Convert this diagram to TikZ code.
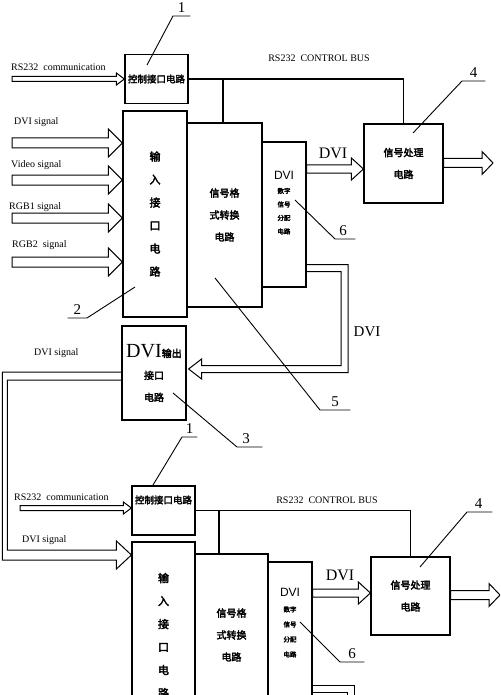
\documentclass[tikz,border=0pt]{standalone}
\usepackage{fontspec}
\setmainfont{Liberation Serif}
\setsansfont{Liberation Sans}
\newfontfamily\cjk[FakeBold=3]{Noto Sans CJK SC}
\usetikzlibrary{calc}

% hollow fat arrow: start, tip, shaft half width, head half width, head length
\newcommand{\fatarrow}[5]{%
  \draw[band] ($(#1)+(0,-#3)$) -- ($(#2)+(-#5,-#3)$) -- ($(#2)+(-#5,-#4)$)
    -- (#2) -- ($(#2)+(-#5,#4)$) -- ($(#2)+(-#5,#3)$) -- ($(#1)+(0,#3)$) -- cycle;}

\begin{document}
\begin{tikzpicture}[x=1pt,y=-1pt,
    box/.style={draw,line width=1.2pt,inner sep=0pt,align=center,font=\cjk\fontsize{10}{22}\selectfont},
    zh/.style={inner sep=0pt,align=center,font=\cjk\fontsize{10}{22}\selectfont},
    band/.style={line width=1pt,line join=miter},
    bus/.style={line width=1.1pt},
    lead/.style={line width=0.9pt},
    num/.style={inner sep=3.5pt,anchor=south west,font=\fontsize{15}{15}\selectfont},
    lab/.style={inner sep=0pt,anchor=west,font=\fontsize{10}{12}\selectfont},
    dvilab/.style={inner sep=0pt,font=\fontsize{16}{16}\selectfont}]
    \useasboundingbox (0,0) rectangle (500,695);
    \clip (0,0) rectangle (500,695);

    % Boxes, upper unit
    \node[box,minimum width=63,minimum height=49,font=\cjk\fontsize{9.5}{12}\selectfont] (ctrlA) at (156.5,79) {控制接口电路};
    \node[box,minimum width=64,minimum height=206,font=\cjk\fontsize{11}{23}\selectfont] (inA) at (155,214) {输\\入\\接\\口\\电\\路};
    \node[box,minimum width=75,minimum height=184] (fmtA) at (224.5,215) {信号格\\式转换\\电路};
    \node[box,minimum width=44,minimum height=145] (distA) at (284,214.5) {};
    \node[zh,font=\cjk\fontsize{6.5}{13.5}\selectfont] (distAt) at ([yshift=11.5pt]distA.center) {{\sffamily\fontsize{12}{14}\selectfont DVI}\\数字\\信号\\分配\\电路};
    \node[box,minimum width=79,minimum height=79] (procA) at (403.5,163.5) {信号处理\\电路};
    \node[box,minimum width=64,minimum height=94] (outA) at (154,373) {{\rmfamily\fontsize{20}{22}\selectfont DVI}输出\\接口\\电路};

    % Boxes, lower unit
    \node[box,minimum width=63,minimum height=49] (ctrlB) at (163.5,510.5) {};
    \node[zh,font=\cjk\fontsize{9.5}{12}\selectfont] (ctrlBt) at ([yshift=10.5pt]ctrlB.center) {控制接口电路};
    \node[box,minimum width=63,minimum height=206] (inB) at (163.5,645) {};
    \node[zh,font=\cjk\fontsize{11}{23}\selectfont] (inBt) at ([yshift=9.5pt]inB.center) {输\\入\\接\\口\\电\\路};
    \node[box,minimum width=73,minimum height=184] (fmtB) at (231.5,646) {};
    \node[zh] (fmtBt) at ([yshift=11pt]fmtB.center) {信号格\\式转换\\电路};
    \node[box,minimum width=44,minimum height=145] (distB) at (290,634.5) {};
    \node[zh,font=\cjk\fontsize{6.5}{15}\selectfont] (distBt) at ([yshift=11.5pt]distB.center) {{\sffamily\fontsize{12}{14}\selectfont DVI}\\数字\\信号\\分配\\电路};
    \node[box,minimum width=79,minimum height=78] (procB) at (410.5,596) {信号处理\\电路};

    % Texts
    \node[lab] (rsA) at (11,67) {RS232\ \ communication};
    \node[lab] (dviAl) at (14,122) {DVI signal};
    \node[lab] (vidAl) at (11,165) {Video signal};
    \node[lab] (rgb1Al) at (9,207) {RGB1 signal};
    \node[lab] (rgb2Al) at (12,245) {RGB2\ \ signal};
    \node[lab] (dviMl) at (34,353) {DVI signal};
    \node[lab] (rsB) at (14,497) {RS232\ \ communication};
    \node[lab] (dviBl) at (22,540) {DVI signal};
    \node[lab,anchor=center] (busAl) at (319,58) {RS232\ \ CONTROL BUS};
    \node[lab,anchor=center] (busBl) at (327,500) {RS232\ \ CONTROL BUS};
    \node[dvilab] (dviA) at (333,153) {DVI};
    \node[dvilab,font=\fontsize{15}{15}\selectfont] (dviFb) at (367,332) {DVI};
    \node[dvilab] (dviB) at (340,575) {DVI};

    % Control bus
    \draw[bus] (ctrlA.east) -- (ctrlA.east -| procA.north) -- (procA.north);
    \coordinate (tapA) at (223,79);
    \draw[bus] (tapA) -- (tapA |- fmtA.north);
    \draw[bus] (ctrlB.east) -- (ctrlB.east -| procB.north) -- (procB.north);
    \coordinate (tapB) at (219,510.5);
    \draw[bus] (tapB) -- (tapB |- fmtB.north);

    % Input arrows
    \coordinate (rsAs) at (12,79);      \coordinate (rsAt) at (rsAs -| ctrlA.west);
    \coordinate (dviAs) at (12,143);    \coordinate (dviAt) at (dviAs -| inA.west);
    \coordinate (vidAs) at (12,180);    \coordinate (vidAt) at (vidAs -| inA.west);
    \coordinate (rgb1As) at (12,218);   \coordinate (rgb1At) at (rgb1As -| inA.west);
    \coordinate (rgb2As) at (12,262);   \coordinate (rgb2At) at (rgb2As -| inA.west);
    \fatarrow{rsAs}{rsAt}{2.5}{6}{8}
    \fatarrow{dviAs}{dviAt}{5}{14}{14}
    \fatarrow{vidAs}{vidAt}{5}{14}{14}
    \fatarrow{rgb1As}{rgb1At}{5}{14}{14}
    \fatarrow{rgb2As}{rgb2At}{5}{14}{14}
    \coordinate (rsBs) at (20,508);     \coordinate (rsBt) at (rsBs -| ctrlB.west);
    \fatarrow{rsBs}{rsBt}{2.5}{6}{8}

    % DVI and output arrows
    \coordinate (dAs) at (distA.east |- 0,169);   \coordinate (dAt) at (dAs -| procA.west);
    \coordinate (oAs) at (procA.east |- 0,163);   \coordinate (oAt) at (493,163);
    \fatarrow{dAs}{dAt}{4}{11}{12}
    \fatarrow{oAs}{oAt}{4.5}{11.5}{11}
    \coordinate (dBs) at (distB.east |- 0,593);   \coordinate (dBt) at (dBs -| procB.west);
    \coordinate (oBs) at (procB.east |- 0,595);   \coordinate (oBt) at (500,595);
    \fatarrow{dBs}{dBt}{4}{11}{12}
    \fatarrow{oBs}{oBt}{4.5}{11.5}{11}

    % DVI loop back into output box, then on to the lower unit
    \coordinate (fbA) at (distA.east |- 0,268);
    \draw[band] (fbA) ++(0,-3.5) -- ++(41.5,0) -- ++(0,108) -- ++(-146.5,0) -- ++(0,6.5)
        -- ++(-13,-10) -- ++(13,-10) -- ++(0,6.5) -- ++(139.5,0) -- ++(0,-94) -- ++(-34.5,0);
    \coordinate (lnk) at (outA.west |- 0,376);
    \draw[band] (lnk) ++(0,-4) -- ++(-119,0) -- ++(0,188) -- ++(114,0) -- ++(0,9)
        -- ++(15,-14) -- ++(-15,-14) -- ++(0,9) -- ++(-109,0) -- ++(0,-170) -- ++(114,0);
    \coordinate (fbB) at (distB.east |- 0,688.5);
    \draw[band] (fbB) ++(0,-3.5) -- ++(42,0) -- ++(0,20);
    \draw[band] (fbB) ++(0,3.5) -- ++(35,0) -- ++(0,10);

    % Reference numbers
    \coordinate (c1A) at (147,65);  \coordinate (k1A) at (173,16);
    \node[num,minimum width=17] (n1A) at (k1A) {1};
    \draw[lead] (c1A) -- (n1A.south west) -- (n1A.south east);
    \coordinate (c2) at (135,287);  \coordinate (k2) at (87,318);
    \node[num,anchor=south east,minimum width=19] (n2) at (k2) {2};
    \draw[lead] (c2) -- (n2.south east) -- (n2.south west);
    \coordinate (c5) at (215,278);  \coordinate (k5) at (320,410);
    \node[num,minimum width=30] (n5) at (k5) {5};
    \draw[lead] (c5) -- (n5.south west) -- (n5.south east);
    \coordinate (c3) at (173,393);  \coordinate (k3) at (237,447);
    \node[num,minimum width=18] (n3) at (k3) {3};
    \draw[lead] (c3) -- (n3.south west) -- ([xshift=7pt]n3.south east);
    \coordinate (c4A) at (413,133); \coordinate (k4A) at (462,81);
    \node[num,minimum width=23] (n4A) at (k4A) {4};
    \draw[lead] (c4A) -- (n4A.south west) -- (n4A.south east);
    \coordinate (c6A) at (295,200); \coordinate (k6A) at (335,239);
    \node[num,minimum width=16] (n6A) at (k6A) {6};
    \draw[lead] (c6A) -- (n6A.south west) -- ([xshift=4pt]n6A.south east);
    \coordinate (c1B) at (153,485); \coordinate (k1B) at (182,437);
    \node[num,minimum width=15] (n1B) at (k1B) {1};
    \draw[lead] (c1B) -- (n1B.south west) -- (n1B.south east);
    \coordinate (c4B) at (420,567); \coordinate (k4B) at (467,512);
    \node[num,minimum width=23] (n4B) at (k4B) {4};
    \draw[lead] (c4B) -- (n4B.south west) -- ([xshift=2pt]n4B.south east);
    \coordinate (c6B) at (300,622); \coordinate (k6B) at (340,662);
    \node[num,minimum width=24] (n6B) at (k6B) {6};
    \draw[lead] (c6B) -- (n6B.south west) -- (n6B.south east);
\end{tikzpicture}
\end{document}
